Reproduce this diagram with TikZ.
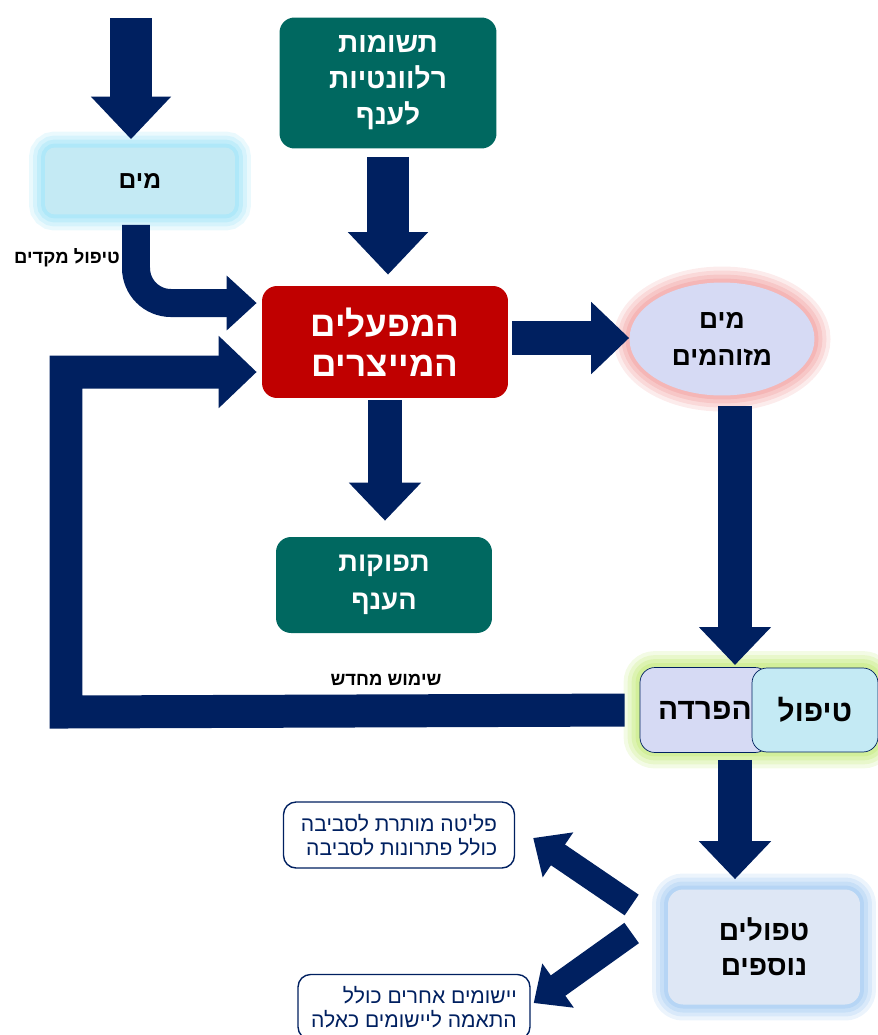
\documentclass[tikz,border=0pt]{standalone}
\usepackage{fontspec}
\setmainfont{Liberation Sans}[Script=Hebrew]
\TeXXeTstate=1
\usetikzlibrary{arrows.meta,shapes.geometric,backgrounds}
\definecolor{navyflow}{RGB}{0,32,96}
\definecolor{plantred}{RGB}{192,0,0}
\definecolor{branchteal}{RGB}{0,104,96}
\definecolor{dropcyan}{RGB}{196,234,244}
\definecolor{dirtylav}{RGB}{214,218,244}
\definecolor{furtherblue}{RGB}{222,231,245}
\definecolor{glowgreen}{RGB}{190,232,110}
\definecolor{glowcyan}{RGB}{140,222,246}
\definecolor{glowpink}{RGB}{240,150,150}
\definecolor{glowblue}{RGB}{150,195,240}
\newcommand{\rtl}[1]{\beginR #1\endR}

\begin{document}
\begin{tikzpicture}[x=0.02cm,y=-0.02cm,
    flow/.style={line width=0.68cm, draw=navyflow, -{Triangle[length=0.76cm,width=1.4cm]}},
    bigflow/.style={flow, line width=0.84cm, -{Triangle[length=0.85cm,width=1.55cm]}},
    thinflow/.style={flow, line width=0.5cm, -{Triangle[length=0.6cm,width=1.05cm]}},
    box/.style={rounded corners=0.3cm, align=center, inner sep=0pt},
    glow/.style={preaction={draw=#1, draw opacity=0.18, line width=0.64cm},
                 preaction={draw=#1, draw opacity=0.22, line width=0.48cm},
                 preaction={draw=#1, draw opacity=0.28, line width=0.32cm},
                 preaction={draw=#1, draw opacity=0.35, line width=0.16cm}},
    outbox/.style={draw=navyflow, thick, rounded corners=0.25cm, fill=white, text=navyflow,
                   align=right, inner sep=0pt, font=\fontsize{12}{13.5}\selectfont}]
    \clip (0,0) rectangle (878,1035);

    % Nodos principales
    \node[box, fill=branchteal, text=white, minimum width=4.34cm, minimum height=2.62cm,
          font=\bfseries\fontsize{16}{20.5}\selectfont] (inputs) at (388,83)
          {\rtl{תשומות}\\\rtl{רלוונטיות}\\\rtl{לענף}};
    \node[box, rounded corners=0.2cm, fill=dropcyan, glow=glowcyan, minimum width=3.8cm, minimum height=1.34cm,
          font=\bfseries\fontsize{14}{17}\selectfont] (water) at (140,181) {\rtl{מים}};
    \node[box, fill=plantred, text=white, minimum width=4.92cm, minimum height=2.24cm,
          font=\bfseries\fontsize{20}{23}\selectfont] (plants) at (385,342)
          {\rtl{המפעלים}\\\rtl{המייצרים}};
    \node[box, fill=branchteal, text=white, minimum width=4.32cm, minimum height=1.92cm,
          font=\bfseries\fontsize{15.5}{21.5}\selectfont] (outputs) at (384,585)
          {\rtl{תפוקות}\\\rtl{הענף}};
    \node[ellipse, fill=dirtylav, glow=glowpink, minimum width=3.7cm, minimum height=2.26cm, align=center,
          inner sep=0pt, font=\bfseries\fontsize{15}{21.5}\selectfont] (polluted) at (722,339)
          {\rtl{מים}\\\rtl{מזוהמים}};

    % Separacion y tratamiento
    \node[box, draw=navyflow, fill=dirtylav, minimum width=2.6cm, minimum height=1.7cm,
          font=\bfseries\fontsize{17}{20}\selectfont] (separation) at (705,710) {\rtl{הפרדה}};
    \node[box, draw=navyflow, fill=dropcyan, minimum width=2.52cm, minimum height=1.68cm,
          font=\bfseries\fontsize{17}{20}\selectfont] (treat) at (815,710) {\rtl{טיפול}};
    \begin{scope}[on background layer]
        \path[rounded corners=0.3cm, glow=glowgreen]
            (separation.north west) rectangle (treat.south east);
    \end{scope}
    \node[box, fill=furtherblue, glow=glowblue, minimum width=3.84cm, minimum height=2.3cm,
          font=\bfseries\fontsize{16}{20}\selectfont] (further) at (764,947)
          {\rtl{טפולים}\\\rtl{נוספים}};

    % Salidas finales
    \node[outbox, minimum width=4.62cm, minimum height=1.32cm] (release) at (399,835)
          {\rtl{פליטה מותרת לסביבה}\\\rtl{כולל פתרונות לסביבה}};
    \node[outbox, minimum width=4.64cm, minimum height=1.3cm] (reuse) at (414,1007)
          {\rtl{יישומים אחרים כולל}\\\rtl{התאמה ליישומים כאלה}};

    % Etiquetas
    \node[font=\bfseries\fontsize{10.5}{12}\selectfont] (pretreat) at (67,258) {\rtl{טיפול מקדים}};
    \node[font=\bfseries\fontsize{10.5}{12}\selectfont] (reuselbl) at (386,680) {\rtl{שימוש מחדש}};

    % Flechas
    \coordinate (wsrc) at (131,18);
    \draw[bigflow, shorten >=0.16cm] (wsrc) -- (wsrc |- water.north);
    \draw[flow, line width=0.56cm, -{Triangle[length=0.6cm,width=1.06cm]}, rounded corners=0.7cm,
          shorten <=0.2cm, shorten >=0.1cm]
        ([xshift=-0.08cm]water.south) |- ([yshift=0.78cm]plants.west);
    \draw[bigflow, shorten <=0.16cm, shorten >=0.22cm] (inputs.south) -- (inputs.south |- plants.north);
    \draw[flow, shorten <=0.04cm, shorten >=0.32cm] (plants.south) -- (plants.south |- outputs.north);
    \coordinate (pe) at ([yshift=0.08cm]plants.east);
    \draw[flow, shorten <=0.08cm] (pe) -- (pe -| polluted.west);
    \coordinate (sepin) at (735,668);
    \draw[flow, shorten <=0.2cm, shorten >=0.06cm] (polluted.south -| sepin) -- (sepin);
    \draw[flow, shorten <=0.14cm, shorten >=0.2cm] (sepin |- separation.south) -- (sepin |- further.north);

    % Lazo de reutilizacion
    \coordinate (loopB) at (66,712);
    \coordinate (loopT) at (66,372);
    \draw[flow, line width=0.66cm, shorten <=0.3cm, shorten >=0.1cm]
        (separation.west) -- (loopB) -- (loopT) -- (loopT -| plants.west);

    % Hacia las salidas
    \draw[thinflow] ([shift={(-36,-42)}]further.west) -- ([shift={(18,3)}]release.east);
    \draw[thinflow] ([shift={(-36,-14)}]further.west) -- ([shift={(3,-4)}]reuse.east);
\end{tikzpicture}
\end{document}
